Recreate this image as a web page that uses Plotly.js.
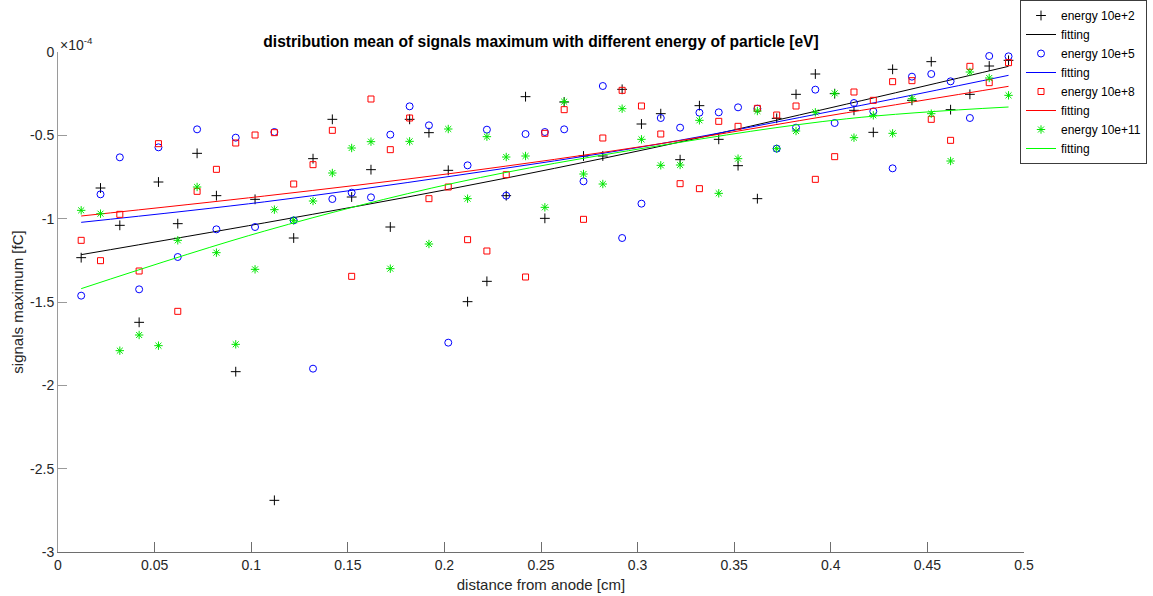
<!DOCTYPE html>
<html>
<head>
<meta charset="utf-8">
<script src="https://cdn.plot.ly/plotly-3.0.1.min.js"></script>
<style>html,body{margin:0;padding:0;background:#fff;}#chart{width:1153px;height:596px;}</style>
</head>
<body>
<div id="chart"></div>
<script>
// distance from anode [cm]
const distance = [0.012,0.022,0.032,0.042,0.052,0.062,0.072,0.082,0.092,0.102,
  0.112,0.122,0.132,0.142,0.152,0.162,0.172,0.182,0.192,0.202,
  0.212,0.222,0.232,0.242,0.252,0.262,0.272,0.282,0.292,0.302,
  0.312,0.322,0.332,0.342,0.352,0.362,0.372,0.382,0.392,0.402,
  0.412,0.422,0.432,0.442,0.452,0.462,0.472,0.482,0.492];

// signals maximum [fC], in units of 1e-4
const energy2 = [-1.234,-0.816,-1.04,-1.622,-0.78,-1.03,-0.608,-0.862,-1.918,-0.884,
  -2.69,-1.116,-0.64,-0.404,-0.87,-0.706,-1.05,-0.404,-0.484,-0.71,
  -1.498,-1.376,-0.862,-0.268,-0.998,-0.30,-0.624,-0.624,-0.224,-0.432,
  -0.37,-0.646,-0.322,-0.524,-0.682,-0.88,-0.398,-0.254,-0.132,-0.25,
  -0.35,-0.482,-0.104,-0.29,-0.058,-0.346,-0.254,-0.084,-0.05];
const energy5 = [-1.462,-0.854,-0.632,-1.424,-0.572,-1.23,-0.464,-1.064,-0.514,-1.05,
  -0.48,-1.01,-1.9,-0.882,-0.844,-0.872,-0.496,-0.326,-0.44,-1.744,
  -0.68,-0.466,-0.862,-0.492,-0.48,-0.464,-0.776,-0.204,-1.116,-0.91,
  -0.396,-0.454,-0.364,-0.362,-0.332,-0.34,-0.58,-0.454,-0.226,-0.426,
  -0.306,-0.356,-0.698,-0.148,-0.132,-0.176,-0.396,-0.024,-0.026];
const energy8 = [-1.13,-1.252,-0.974,-1.314,-0.55,-1.556,-0.836,-0.704,-0.546,-0.498,
  -0.484,-0.792,-0.676,-0.47,-1.346,-0.282,-0.586,-0.396,-0.88,-0.81,
  -1.126,-1.194,-0.736,-1.35,-0.488,-0.346,-1.004,-0.516,-0.23,-0.324,
  -0.492,-0.79,-0.82,-0.416,-0.446,-0.338,-0.378,-0.324,-0.764,-0.628,
  -0.24,-0.29,-0.178,-0.172,-0.404,-0.53,-0.086,-0.184,-0.064];
const energy11 = [-0.95,-0.97,-1.792,-1.698,-1.762,-1.13,-0.81,-1.204,-1.754,-1.304,
  -0.946,-1.01,-0.894,-0.726,-0.576,-0.538,-1.3,-0.536,-1.152,-0.462,
  -0.88,-0.508,-0.63,-0.624,-0.932,-0.298,-0.732,-0.792,-0.34,-0.524,
  -0.68,-0.678,-0.41,-0.848,-0.64,-0.354,-0.58,-0.474,-0.362,-0.248,
  -0.514,-0.38,-0.488,-0.28,-0.37,-0.654,-0.12,-0.156,-0.26];

// fitting curves
const fitDistance = [0.012,0.107,0.206,0.308,0.408,0.492];
const fit2  = [-1.216,-1.025,-0.815,-0.575,-0.313,-0.086];
const fit5  = [-1.022,-0.899,-0.741,-0.558,-0.338,-0.14];
const fit8  = [-0.984,-0.864,-0.725,-0.557,-0.365,-0.206];
const fit11 = [-1.42,-1.074,-0.784,-0.568,-0.401,-0.33];

const xTickVals = [0,0.05,0.1,0.15,0.2,0.25,0.3,0.35,0.4,0.45,0.5];
const xTickLabels = ["0","0.05","0.1","0.15","0.2","0.25","0.3","0.35","0.4","0.45","0.5"];
const yTickVals = [0,-0.5,-1,-1.5,-2,-2.5,-3];
const yTickLabels = ["0","-0.5","-1","-1.5","-2","-2.5","-3"];

const seriesNames = ["energy 10e+2","energy 10e+5","energy 10e+8","energy 10e+11"];

const FONT = "Liberation Sans, Arial, Helvetica, sans-serif";
const TXT = "#262626";

function pts(name, y, color, symbol, size) {
  return {x: distance, y: y, name: name, type: "scatter", mode: "markers",
    marker: {symbol: symbol, size: size, color: color, line: {color: color, width: 1}}};
}
function fit(y, color) {
  return {x: fitDistance, y: y, name: "fitting", type: "scatter", mode: "lines",
    line: {color: color, width: 1, shape: "spline"}};
}

const data = [
  pts(seriesNames[0], energy2, "#000000", "cross-thin-open", 7),
  fit(fit2, "#000000"),
  pts(seriesNames[1], energy5, "#0000ff", "circle-open", 7),
  fit(fit5, "#0000ff"),
  pts(seriesNames[2], energy8, "#ff0000", "square-open", 6),
  fit(fit8, "#ff0000"),
  pts(seriesNames[3], energy11, "#00e600", "asterisk-open", 7),
  fit(fit11, "#00ff00")
];

const layout = {
  width: 1153, height: 596,
  margin: {l: 58, r: 129, t: 52, b: 44, pad: 0, autoexpand: false},
  paper_bgcolor: "#ffffff", plot_bgcolor: "#ffffff",
  font: {family: FONT, color: TXT, size: 14},
  showlegend: true,
  title: {text: "<b>distribution mean of signals maximum with different energy of particle [eV]</b>",
    font: {family: FONT, size: 15.6, color: "#000000"},
    xref: "paper", x: 0.5, xanchor: "center", yref: "container", y: 1 - 42/596, yanchor: "middle"},
  xaxis: {range: [0, 0.5], tickvals: xTickVals, ticktext: xTickLabels,
    showline: true, linecolor: "#6e6e6e", linewidth: 1, mirror: false,
    ticks: "inside", ticklen: 10, tickcolor: "#6e6e6e", tickwidth: 1,
    showgrid: false, zeroline: false, automargin: false,
    tickfont: {family: FONT, size: 14, color: TXT},
    title: {text: "distance from anode [cm]", font: {family: FONT, size: 15, color: TXT}, standoff: 7}},
  yaxis: {range: [-3, 0], tickvals: yTickVals, ticktext: yTickLabels,
    showline: true, linecolor: "#9a9a9a", linewidth: 1, mirror: false,
    ticks: "inside", ticklen: 9, tickcolor: "#9a9a9a", tickwidth: 1,
    showgrid: false, zeroline: false, automargin: false,
    tickfont: {family: FONT, size: 14, color: TXT},
    title: {text: "signals maximum [fC]", font: {family: FONT, size: 15, color: TXT}, standoff: 2}},
  legend: {x: (1020 - 58) / 966, y: 552 / 500, xanchor: "left", yanchor: "top",
    bgcolor: "#ffffff", bordercolor: "#3c3c3c", borderwidth: 1,
    font: {family: FONT, size: 12, color: "#000000"}, tracegroupgap: 0},
  annotations: [{xref: "paper", yref: "paper", x: 0, y: 1, xanchor: "left", yanchor: "bottom",
    showarrow: false, text: "×10<sup>-4</sup>", font: {family: FONT, size: 14, color: TXT}, yshift: -3}]
};

Plotly.newPlot("chart", data, layout, {staticPlot: true, displayModeBar: false});
</script>
</body>
</html>
